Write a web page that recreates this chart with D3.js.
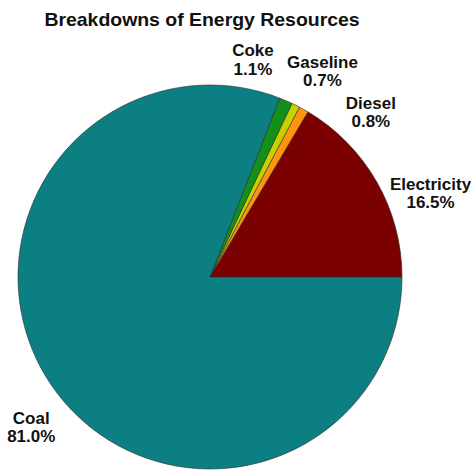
<!DOCTYPE html>
<html>
<head>
<meta charset="utf-8">
<script src="https://d3js.org/d3.v7.min.js"></script>
<style>
  body { margin: 0; background: #fff; }
  text { font-family: "Liberation Sans", Arial, sans-serif; font-weight: bold; fill: #111; }
</style>
</head>
<body>
<svg id="chart" width="471" height="470"></svg>
<script>
// data
var categories = ['Electricity', 'Diesel', 'Gaseline', 'Coke', 'Coal'];
var shares = [16.5, 0.8, 0.7, 1.1, 81.0];
var colours = ['#7b0000', '#ff9410', '#c8d000', '#12901a', '#0c7f83'];

// label nudges from the point just outside each slice (first line baseline)
var labelNudge = [[25, 24], [51, 28], [12, -8], [-46, -14], [7, 20]];

var width = 471,
    height = 470,
    cx = 210,
    cy = 277,
    radius = 192;

var svg = d3.select('svg#chart');

// the original text is a bit wider than Liberation Sans
svg.append('text')
    .attr('transform', 'translate(202,26) scale(1.08,1)')
    .attr('text-anchor', 'middle')
    .style('font-size', '18px')
    .text('Breakdowns of Energy Resources');

var rows = categories.map(function(c, i) {
    return { name: c, value: shares[i], colour: colours[i], nudge: labelNudge[i] };
});

// start at 3 o'clock and go round counter-clockwise
var pie = d3.pie()
    .sort(null)
    .value(function(d) { return d.value; })
    .startAngle(Math.PI / 2)
    .endAngle(Math.PI / 2 - 2 * Math.PI);

var arc = d3.arc().innerRadius(0).outerRadius(radius);
var outer = d3.arc().innerRadius(225).outerRadius(225);

var g = svg.append('g')
    .attr('transform', 'translate(' + cx + ',' + cy + ')');

g.selectAll('path')
    .data(pie(rows))
    .enter().append('path')
    .attr('d', arc)
    .attr('fill', function(d) { return d.data.colour; })
    .attr('stroke', '#2a2a2a')
    .attr('stroke-width', 0.6);

var labels = g.selectAll('text.lab')
    .data(pie(rows))
    .enter().append('text')
    .attr('class', 'lab')
    .attr('text-anchor', 'middle')
    .style('font-size', '16.5px')
    .attr('transform', function(d) {
        var p = outer.centroid(d);
        return 'translate(' + (p[0] + d.data.nudge[0]) + ',' + (p[1] + d.data.nudge[1]) + ') scale(1.03,1)';
    });

labels.append('tspan')
    .attr('x', 0)
    .attr('y', 0)
    .text(function(d) { return d.data.name; });

labels.append('tspan')
    .attr('x', 0)
    .attr('y', 18.5)
    .text(function(d) { return d.data.value.toFixed(1) + '%'; });
</script>
</body>
</html>
